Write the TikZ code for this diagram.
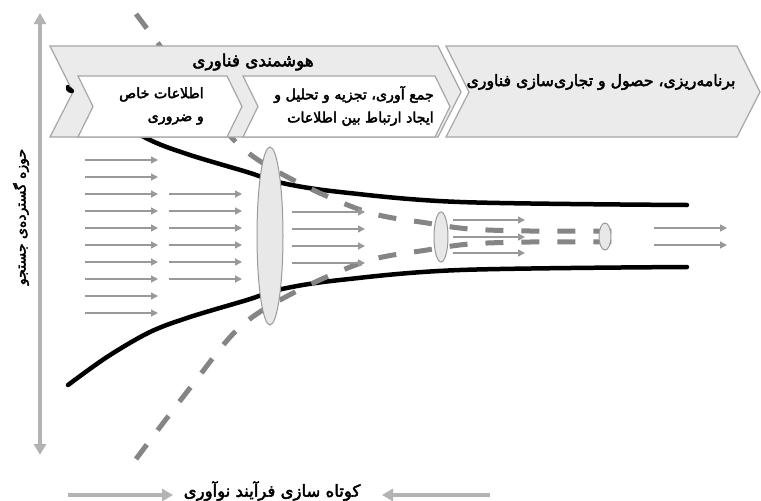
\documentclass[tikz,border=0pt]{standalone}
\usepackage{fontspec}
\usepackage{graphicx}
\usetikzlibrary{arrows.meta,shapes.geometric}
\TeXXeTstate=1
\newfontfamily\fa[Script=Arabic, FakeBold=2.8]{DejaVu Sans}
\definecolor{bandfill}{HTML}{EBEBEB}
\definecolor{bandedge}{HTML}{A6A6A6}
\definecolor{arrgray}{HTML}{999999}
\definecolor{axisgray}{HTML}{B3B3B3}
\definecolor{dashgray}{HTML}{858585}
\definecolor{lensfill}{HTML}{E8E8E8}
\tikzset{
  band/.style={fill=bandfill, draw=bandedge, line width=1.2pt, line join=miter},
  innerband/.style={fill=white, draw=bandedge, line width=1.2pt, line join=miter},
  flow/.style={draw=arrgray, line width=1.4pt, -{Triangle[length=7pt,width=7pt]}},
  axisline/.style={draw=axisgray, line width=4pt},
  funnel/.style={draw=black, line width=4.5pt, line cap=round},
  dashline/.style={draw=dashgray, line width=5pt, dash pattern=on 18pt off 18pt},
  lens/.style={ellipse, draw=arrgray, fill=lensfill, line width=1pt, inner sep=0pt},
  fatext/.style={inner sep=0pt, text=black},
}
\begin{document}
\begin{tikzpicture}[x=1pt, y=-1pt]
\useasboundingbox[fill=white] (0,0) rectangle (761,501);

% funnel (black curves)
\draw[funnel] plot[smooth, tension=0.55] coordinates {(68,87) (107,115) (150,140) (190,155) (247,172) (282,183) (340,192) (460,202) (687,205)};
\draw[funnel] plot[smooth, tension=0.55] coordinates {(68,385) (107,357) (150,332) (190,317) (247,300) (282,289) (340,280) (460,270) (687,267)};

% dashed curves
\draw[dashline] plot[smooth, tension=0.55] coordinates {(136,14) (190,85) (240,146) (297,182) (367,212) (427,223) (470,229) (530,231) (627,231)};
\draw[dashline] plot[smooth, tension=0.55] coordinates {(136,459) (190,388) (240,327) (297,291) (367,261) (427,250) (470,244) (530,242) (627,242)};

% chevrons
\draw[band] (50,46) -- (438,46) -- (461,92) -- (438,137) -- (50,137) -- (73,92) -- cycle;
\draw[band] (446,46) -- (737,46) -- (760,92) -- (737,137) -- (446,137) -- (469,92) -- cycle;
\draw[innerband] (78,76) -- (227,76) -- (242,106.5) -- (227,137) -- (78,137) -- (93,106.5) -- cycle;
\draw[innerband] (243,76) -- (435,76) -- (450,106.5) -- (435,137) -- (243,137) -- (258,106.5) -- cycle;
\fill[black, rotate around={-30:(70,90)}] (70,90) ellipse [x radius=4.5, y radius=2.8];

% texts in chevrons
\node[fatext, font=\fa\fontsize{16.8}{18}\selectfont] (t1) at (253,62) {\beginR هوشمندی فناوری\endR};
\node[fatext, font=\fa\fontsize{14.2}{23}\selectfont, align=right, anchor=east] (t2) at (204,106) {\beginR اطلاعات خاص\endR\\\beginR و ضروری\endR};
\node[fatext, font=\fa\fontsize{14.2}{23}\selectfont, align=right, anchor=east] (t3) at (434,106) {\beginR جمع آوری، تجزیه و تحلیل و\endR\\\beginR ایجاد ارتباط بین اطلاعات\endR};
\node[fatext, font=\fa\fontsize{15.7}{18}\selectfont] (t4) at (601,82) {\beginR برنامه‌ریزی، حصول و تجاری‌سازی فناوری\endR};

% lenses
\node[lens, minimum width=26pt, minimum height=178pt] (L1) at (270,236) {};
\node[lens, minimum width=14pt, minimum height=50pt] (L2) at (441,237) {};
\node[lens, minimum width=12pt, minimum height=27pt] (L3) at (605,236.5) {};

% flow arrows
\foreach \y in {160,177,194,211,228,245,262,279,296,313} \draw[flow] (85,\y) -- (158,\y);
\foreach \y in {194,211,228,245,262,279} \draw[flow] (169,\y) -- (242,\y);
\foreach \y in {212,229,246,263} \draw[flow] (292,\y) -- (365,\y);
\foreach \y in {220,237,253} \draw[flow] (453,\y) -- (525,\y);
\foreach \y in {228,245} \draw[flow] (654,\y) -- (727,\y);

% vertical axis
\coordinate (ax0) at (40,455);
\coordinate (ax1) at (40,13);
\draw[axisline, {Triangle[length=11pt,width=12pt]}-{Triangle[length=11pt,width=12pt]}] (ax0) -- (ax1);
\node[fatext, font=\fa\fontsize{14}{16}\selectfont, rotate=90] (vlab) at (21,217) {\beginR حوزه گسترده‌ی جستجو\endR};

% bottom arrows
\coordinate (b0) at (68,495);
\coordinate (b1) at (173,495);
\coordinate (b2) at (490,495);
\coordinate (b3) at (382,495);
\draw[axisline, -{Triangle[length=11pt,width=12pt]}] (b0) -- (b1);
\draw[axisline, -{Triangle[length=11pt,width=12pt]}] (b2) -- (b3);
\node[fatext, font=\fa\fontsize{16.5}{18}\selectfont] (blab) at (272,491) {\beginR کوتاه سازی فرآیند نوآوری\endR};
\end{tikzpicture}
\end{document}
